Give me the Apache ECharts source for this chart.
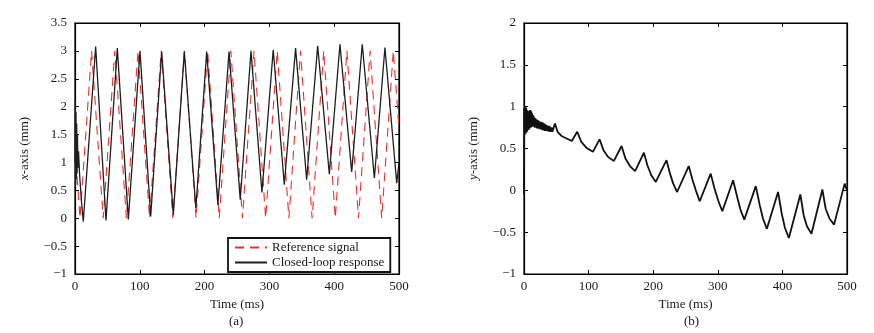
<!DOCTYPE html>
<html><head><meta charset="utf-8">
<script src="https://cdn.jsdelivr.net/npm/echarts@6/dist/echarts.min.js"></script>
<style>html,body{margin:0;padding:0;background:#fff}#c{width:874px;height:333px}</style>
</head><body><div id="c"></div>
<script>
// ---- Panel (a): x-axis ----
const refT = [0, 7.7, 25.6, 43.5, 61.4, 79.3, 97.2, 115.1, 133.0, 151.0, 168.9, 186.8, 204.7, 222.6, 240.5, 258.4, 276.3, 294.2, 312.1, 330.1, 348.0, 365.9, 383.8, 401.7, 419.6, 437.5, 455.4, 473.3, 491.2, 500];
const refV = [1.29, 0, 3, 0, 3, 0, 3, 0, 3, 0, 3, 0, 3, 0, 3, 0, 3, 0, 3, 0, 3, 0, 3, 0, 3, 0, 3, 0, 3, 1.6];
const clT = [0, 0.5, 1.0, 1.5, 2.0, 2.6, 3.2, 3.8, 4.5, 5.5, 7, 10, 12.8, 31.9, 47.8, 65.3, 82.3, 100.3, 116.8, 133.8, 151.7, 168.7, 186.5, 203.2, 220.5, 237.7, 255, 271.6, 288.5, 305.9, 323, 340.4, 357.5, 374.5, 392.5, 408.9, 427, 443.3, 462, 478.3, 496.5, 500];
const clV = [1.0, 2.1, 0.6, 1.9, 0.7, 1.7, 0.8, 1.5, 0.9, 1.2, 0.8, 0.3, -0.06, 3.08, -0.04, 3.05, -0.02, 3.0, 0.03, 2.99, 0.06, 2.99, 0.18, 2.99, 0.24, 2.99, 0.33, 3.0, 0.46, 3.02, 0.60, 3.05, 0.69, 3.09, 0.79, 3.12, 0.83, 3.12, 0.72, 3.06, 0.63, 1.0];
// ---- Panel (b): y-axis ----
const yT = [0, 0.4, 0.9, 1.4, 1.9, 2.4, 2.9, 3.4, 3.9, 4.4, 4.9, 5.4, 5.9, 6.4, 6.9, 7.4, 7.9, 8.4, 8.9, 9.4, 9.9, 10.4, 10.9, 11.4, 11.9, 12.4, 13, 13.6, 14.2, 14.8, 15.4, 16, 16.8, 17.6, 18.4, 19.2, 20, 21, 22, 23, 24, 25, 26, 27, 28, 29, 30, 31, 32, 33, 34, 35, 36, 37, 38, 39, 40, 41, 42, 43, 44, 45,
  47.9, 52, 58, 66, 74, 82.4, 88.7, 96.4, 106.7, 117, 123, 130, 139, 151, 157, 164, 172, 185.6, 191, 197, 204, 220.6, 226, 231, 237, 255, 261, 266, 272, 289, 295, 301, 307, 323.7, 330, 335, 341, 358.8, 365, 370, 376, 393.3, 399, 404, 410, 427.8, 433, 438, 445, 461.9, 467, 473, 480, 496.4, 500];
const yV = [-0.05, 0.98, 0.66, 1.0, 0.7, 0.97, 0.68, 0.99, 0.72, 0.96, 0.7, 0.95, 0.74, 0.93, 0.72, 0.94, 0.75, 0.95, 0.74, 0.96, 0.76, 0.95, 0.75, 0.94, 0.77, 0.92, 0.76, 0.9, 0.77, 0.89, 0.76, 0.87, 0.75, 0.86, 0.76, 0.85, 0.74, 0.84, 0.74, 0.83, 0.73, 0.82, 0.73, 0.82, 0.72, 0.81, 0.72, 0.8, 0.71, 0.79, 0.71, 0.78, 0.71, 0.77, 0.7, 0.77, 0.7, 0.76, 0.7, 0.75, 0.7, 0.72,
  0.80, 0.70, 0.65, 0.62, 0.59, 0.70, 0.58, 0.51, 0.46, 0.61, 0.48, 0.40, 0.35, 0.53, 0.38, 0.29, 0.23, 0.45, 0.30, 0.18, 0.10, 0.36, 0.20, 0.08, -0.02, 0.29, 0.12, 0.0, -0.13, 0.20, 0.02, -0.13, -0.25, 0.12, -0.08, -0.23, -0.35, 0.05, -0.18, -0.34, -0.46, -0.02, -0.28, -0.45, -0.57, -0.05, -0.30, -0.43, -0.52, 0.01, -0.22, -0.34, -0.41, 0.08, 0.0];
const xTicks = [0, 100, 200, 300, 400, 500];
const yTicksA = [-1, -0.5, 0, 0.5, 1, 1.5, 2, 2.5, 3, 3.5];
const yTicksB = [-1, -0.5, 0, 0.5, 1, 1.5, 2];
const seriesNames = ['Reference signal', 'Closed-loop response'];

const FONT = 'Liberation Serif';
const TXT = '#1a1a1a';
const RED = '#e83030';
const fmt = v => String(v).replace('-', '\u2212');
const zip = (a, b) => a.map((t, i) => [t, b[i]]);

const grids = [
  {left: 75, top: 23, width: 324, height: 251, show: true, borderColor: '#000', borderWidth: 1.2, backgroundColor: 'transparent'},
  {left: 524, top: 23, width: 323, height: 251, show: true, borderColor: '#000', borderWidth: 1.2, backgroundColor: 'transparent'}
];
function xAx(gi, ticks, main) {
  return {
    type: 'value', gridIndex: gi, min: ticks[0], max: ticks[ticks.length - 1], interval: ticks[1] - ticks[0],
    position: main ? 'bottom' : 'top',
    name: main ? 'Time (ms)' : '', nameLocation: 'middle', nameGap: 22,
    nameTextStyle: {fontFamily: FONT, fontSize: 13, color: TXT},
    axisLine: {show: true, onZero: false, lineStyle: {color: '#000', width: 1.2}},
    axisTick: {show: true, inside: true, length: 4, lineStyle: {color: '#000'}},
    axisLabel: {show: main, fontFamily: FONT, fontSize: 13, color: TXT, margin: 6, formatter: fmt},
    splitLine: {show: false}
  };
}
function yAx(gi, ticks, main, nm) {
  return {
    type: 'value', gridIndex: gi, min: ticks[0], max: ticks[ticks.length - 1], interval: ticks[1] - ticks[0],
    position: main ? 'left' : 'right',
    name: main ? nm : '', nameLocation: 'middle', nameGap: 44, nameRotate: 90,
    nameTextStyle: {fontFamily: FONT, fontSize: 13, color: TXT,
      rich: {it: {fontFamily: FONT, fontSize: 13, fontStyle: 'italic', color: TXT}, n: {fontFamily: FONT, fontSize: 13, color: TXT}}},
    axisLine: {show: true, onZero: false, lineStyle: {color: '#000', width: 1.2}},
    axisTick: {show: true, inside: true, length: 4, lineStyle: {color: '#000'}},
    axisLabel: {show: main, fontFamily: FONT, fontSize: 13, color: TXT, margin: 8, formatter: fmt},
    splitLine: {show: false}
  };
}

const chart = echarts.init(document.getElementById('c'), null, {renderer: 'canvas'});
chart.setOption({
  animation: false,
  backgroundColor: '#fff',
  grid: grids,
  xAxis: [xAx(0, xTicks, true), xAx(0, xTicks, false), xAx(1, xTicks, true), xAx(1, xTicks, false)],
  yAxis: [yAx(0, yTicksA, true, '{it|x}{n|-axis (mm)}'), yAx(0, yTicksA, false), yAx(1, yTicksB, true, '{it|y}{n|-axis (mm)}'), yAx(1, yTicksB, false)],
  legend: {
    data: seriesNames,
    orient: 'vertical', left: 228, top: 238,
    itemWidth: 32, itemHeight: 12, itemGap: 2, padding: [3, 6, 3, 6],
    itemStyle: {opacity: 0},
    backgroundColor: '#fff', borderColor: '#111', borderWidth: 1.8,
    textStyle: {fontFamily: FONT, fontSize: 13, color: TXT}
  },
  series: [
    {name: seriesNames[0], type: 'line', xAxisIndex: 0, yAxisIndex: 0, data: zip(refT, refV), symbol: 'none',
      lineStyle: {color: RED, width: 1.1, type: [9, 6]}, itemStyle: {color: RED}, z: 2},
    {name: seriesNames[1], type: 'line', xAxisIndex: 0, yAxisIndex: 0, data: zip(clT, clV), symbol: 'none',
      lineStyle: {color: '#1e1e1e', width: 1.3}, itemStyle: {color: '#333'}, z: 3},
    {name: 'y', type: 'line', xAxisIndex: 2, yAxisIndex: 2, data: zip(yT, yV), symbol: 'none',
      lineStyle: {color: '#111', width: 1.8}, itemStyle: {color: '#111'}, z: 3}
  ],
  graphic: [
    {type: 'text', left: 229, top: 315, style: {text: '(a)', font: '13px "Liberation Serif"', fill: TXT}},
    {type: 'text', left: 684, top: 315, style: {text: '(b)', font: '13px "Liberation Serif"', fill: TXT}}
  ]
});
</script></body></html>
